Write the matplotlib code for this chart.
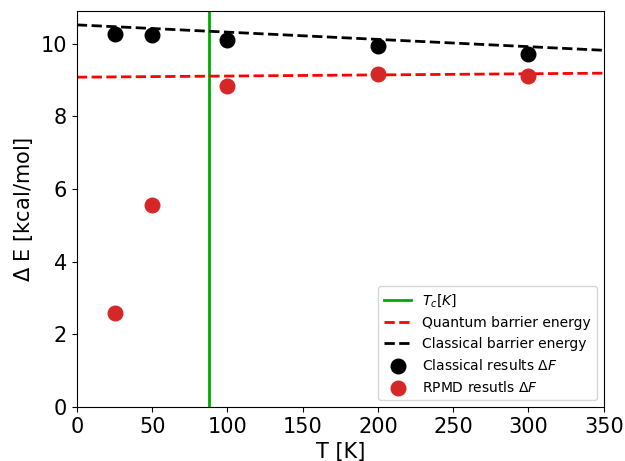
import numpy as np
import matplotlib.pyplot as plt

# temperatures of the simulations
T = [25, 50, 100, 200, 300]
classical_dF = [10.27, 10.25, 10.11, 9.94, 9.72]
rpmd_dF = [2.59, 5.56, 8.84, 9.17, 9.12]

# barrier energies (straight lines over the plotted range)
T_line = [0, 350]
quantum_barrier = [9.08, 9.19]
classical_barrier = [10.52, 9.82]

Tc = 88

fig, ax = plt.subplots(figsize=(6.25, 4.61), dpi=100)

ax.axvline(Tc, color='#00aa00', lw=2, label=r'$T_c[K]$')
ax.plot(T_line, quantum_barrier, '--', color='red', lw=2, label='Quantum barrier energy')
ax.plot(T_line, classical_barrier, '--', color='black', lw=2, label='Classical barrier energy')
ax.scatter(T, classical_dF, s=110, color='black', zorder=3, label=r'Classical results $\Delta F$')
ax.scatter(T, rpmd_dF, s=110, color='tab:red', zorder=3, label=r'RPMD resutls $\Delta F$')

ax.set_xlim(0, 350)
ax.set_ylim(0, 10.9)
ax.set_xlabel('T [K]', fontsize=15)
ax.set_ylabel(r'$\Delta$ E [kcal/mol]', fontsize=15)
ax.tick_params(labelsize=15)
ax.legend(loc='lower right', fontsize=10)

plt.subplots_adjust(left=0.123, right=0.966, top=0.976, bottom=0.117)
plt.savefig('out.png')
